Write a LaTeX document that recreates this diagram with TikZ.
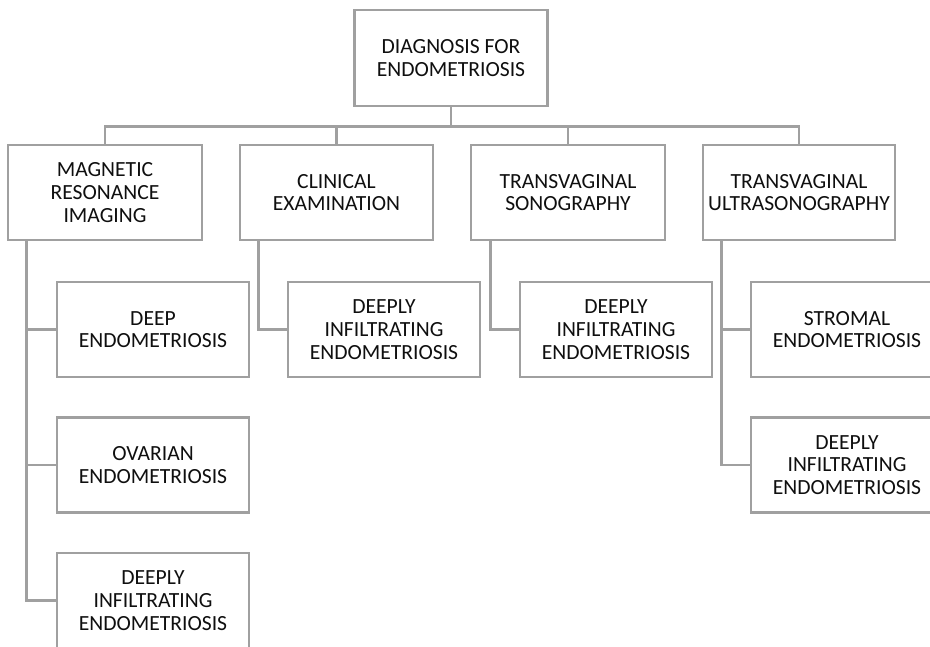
\documentclass[tikz,border=0pt]{standalone}
\usepackage{fontspec}
\setmainfont{Carlito}
\definecolor{boxgray}{RGB}{160,160,160}
\definecolor{txt}{RGB}{15,15,15}

\begin{document}
\begin{tikzpicture}[x=1pt,y=-1pt,
	box/.style={draw=boxgray, line width=2.6pt, fill=white, text=txt,
		align=center, inner sep=0pt, minimum width=192pt, minimum height=95pt,
		font=\fontsize{21.6}{22.7}\selectfont},
	link/.style={draw=boxgray, line width=2.6pt}]
			\useasboundingbox (0,0) rectangle (930,646);
			\clip (0,0) rectangle (930,646);
			\node[box, minimum width=193pt, minimum height=96pt] (root) at (451,58) {DIAGNOSIS FOR\\ENDOMETRIOSIS};
			\node[box, minimum width=194pt] (mri) at (105,192.5) {MAGNETIC\\RESONANCE\\IMAGING};
			\node[box, minimum width=193pt] (clin) at (336.5,192.5) {CLINICAL\\EXAMINATION};
			\node[box, minimum width=194pt] (tvs) at (568,192.5) {TRANSVAGINAL\\SONOGRAPHY};
			\node[box] (tvu) at (799,192.5) {TRANSVAGINAL\\ULTRASONOGRAPHY};
			% second level
			\node[box] (deep) at (153,329.5) {DEEP\\ENDOMETRIOSIS};
			\node[box] (ovar) at (153,465) {OVARIAN\\ENDOMETRIOSIS};
			\node[box] (mridie) at (153,600.5) {DEEPLY\\INFILTRATING\\ENDOMETRIOSIS};
			\node[box] (clindie) at (384,329.5) {DEEPLY\\INFILTRATING\\ENDOMETRIOSIS};
			\node[box] (tvsdie) at (616,329.5) {DEEPLY\\INFILTRATING\\ENDOMETRIOSIS};
			\node[box] (strom) at (847,329.5) {STROMAL\\ENDOMETRIOSIS};
			\node[box] (tvudie) at (847,465) {DEEPLY\\INFILTRATING\\ENDOMETRIOSIS};
			% connectors
			\foreach \n in {mri,clin,tvs,tvu}
				\draw[link] (root.south) -- ++(0,19) -| (\n.north);
			\foreach \n in {deep,ovar,mridie}
				\draw[link] ([xshift=20pt]mri.south west) |- (\n.west);
			\draw[link] ([xshift=20pt]clin.south west) |- (clindie.west);
			\draw[link] ([xshift=21pt]tvs.south west) |- (tvsdie.west);
			\foreach \n in {strom,tvudie}
				\draw[link] ([xshift=20pt]tvu.south west) |- (\n.west);
		\end{tikzpicture}
\end{document}
